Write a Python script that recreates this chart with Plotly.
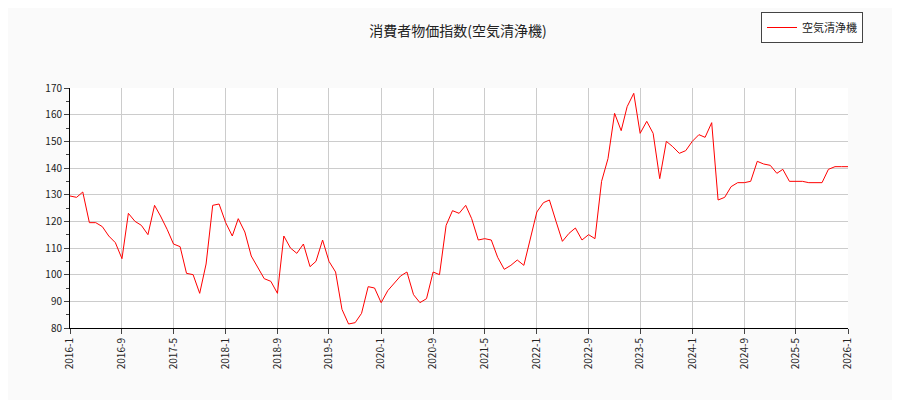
import pandas as pd
import plotly.graph_objects as go

title = "消費者物価指数(空気清浄機)"
series_name = "空気清浄機"
start = "2016-01-01"
values = [
    129.5, 129, 131, 119.5, 119.5, 118, 114.5, 112, 106, 123, 120, 118.5,
    115, 126, 122, 117, 111.5, 110.5, 100.5, 100, 93, 104, 126, 126.5,
    119.5, 114.5, 121, 116, 107, 102.5, 98.5, 97.5, 93, 114.5, 110, 108,
    111.5, 103, 105, 113, 105, 101, 87, 81.5, 82, 85.5, 95.5, 95,
    89.5, 94, 96.5, 99.5, 101, 92.5, 89.5, 91, 101, 100, 118.5, 124,
    123, 126, 121, 113, 113.5, 113, 106.5, 102, 103.5, 105.5, 103.5, 113,
    123.5, 127, 128, 120, 112.5, 115.5, 117.5, 113, 115, 113.5, 135, 143.5,
    160.5, 154, 163, 168, 153, 157.5, 153, 136, 150, 148, 145.5, 146.5,
    150, 152.5, 151.5, 157, 128, 129, 133, 134.5, 134.5, 135, 142.5, 141.5,
    141, 138, 139.5, 135, 135, 135, 134.5, 134.5, 134.5, 139.5, 140.5, 140.5,
    140.5,
]
dates = pd.date_range(start, periods=len(values), freq="MS")
tick_dates = pd.date_range(start, "2026-01-01", freq="8MS")
tick_labels = [f"{d.year}-{d.month}" for d in tick_dates]

fig = go.Figure()
fig.add_trace(go.Scatter(x=dates, y=values, mode="lines", name=series_name,
                         line=dict(color="red", width=1)))

fig.update_layout(
    width=900, height=400,
    paper_bgcolor="#fafafa", plot_bgcolor="white",
    font=dict(family="Noto Sans CJK JP", size=10, color="#222"),
    title=dict(text=title, x=0.5, y=0.955, xanchor="center", font=dict(size=14)),
    margin=dict(l=62, r=60, t=80, b=80, autoexpand=False),
    showlegend=True,
    legend=dict(xref="container", yref="container", x=0.95, y=0.99,
                xanchor="right", yanchor="top", font=dict(size=11),
                bordercolor="#444", borderwidth=1, bgcolor="white"),
    xaxis=dict(range=[dates[0], pd.Timestamp("2026-01-01")],
               tickvals=tick_dates, ticktext=tick_labels, tickangle=-90,
               showgrid=True, gridcolor="#cccccc", ticks="outside",
               showline=True, linecolor="black", linewidth=1),
    yaxis=dict(range=[80, 170], dtick=10, showgrid=True, gridcolor="#cccccc",
               ticks="outside", showline=True, linecolor="black", linewidth=1,
               minor=dict(dtick=5, ticks="outside", ticklen=3)),
)
fig.write_html("out.html")
